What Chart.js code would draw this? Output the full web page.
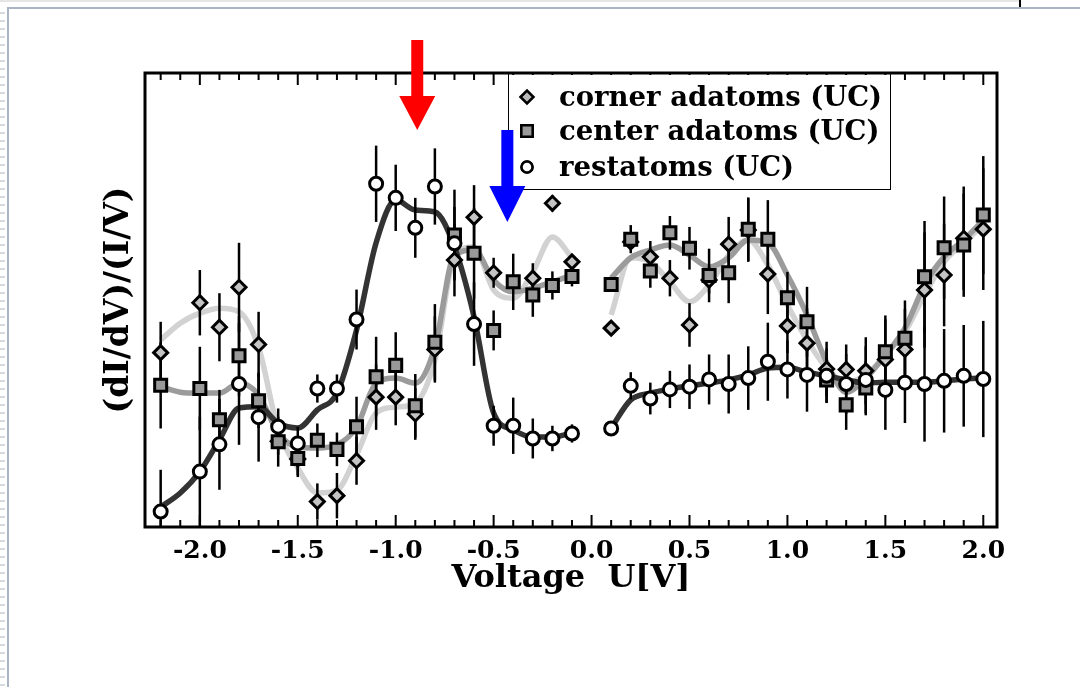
<!DOCTYPE html>
<html>
<head>
<meta charset="utf-8">
<script src="https://cdn.jsdelivr.net/npm/chart.js@4"></script>
<style>
html, body { margin: 0; padding: 0; background: #fff; }
#wrap { position: relative; width: 1080px; height: 687px; overflow: hidden; }
#chart { position: absolute; left: 0; top: 0; }
.topLine { position: absolute; left: 0; top: 0; width: 1020px; height: 2px; background: #e6e6e6; }
.mark { position: absolute; left: 1019px; top: 0; width: 2px; height: 7px; background: #000; }
.frameTop { position: absolute; left: 7px; top: 7px; right: 0; height: 2px; background: #aab5c4; }
.frameLeft { position: absolute; left: 7px; top: 7px; bottom: 0; width: 2px; background: #aab5c4; }
.ruler { position: absolute; left: 0; top: 12px; bottom: 0; width: 5px;
  background: repeating-linear-gradient(to bottom, #d6dbe2 0 2px, transparent 2px 8px); }
</style>
</head>
<body>
<div id="wrap">
  <div class="topLine"></div>
  <div class="mark"></div>
  <div class="frameTop"></div>
  <div class="frameLeft"></div>
  <div class="ruler"></div>
  <canvas id="chart" width="1080" height="687"></canvas>
</div>
<script>
// measured points (arbitrary units, 0 = bottom of frame)
const voltages = [-2.2, -2.0, -1.9, -1.8, -1.7, -1.6, -1.5, -1.4, -1.3, -1.2, -1.1, -1.0, -0.9, -0.8, -0.7, -0.6, -0.5, -0.4, -0.3, -0.2, -0.1,
                  0.1, 0.2, 0.3, 0.4, 0.5, 0.6, 0.7, 0.8, 0.9, 1.0, 1.1, 1.2, 1.3, 1.4, 1.5, 1.6, 1.7, 1.8, 1.9, 2.0];

const corner = [38.4, 49.4, 44.0, 52.8, 40.2, 18.9, 15.0, 5.6, 6.9, 14.6, 28.6, 28.6, 24.9, 39.1, 58.8, 68.2, 56.0, null, 54.8, 71.3, 58.4,
                43.8, 62.8, 59.5, 54.8, 44.5, 54.4, 62.3, 65.4, 55.7, 44.3, 40.5, 34.8, 34.7, 34.4, 36.9, 39.1, 52.2, 55.5, 63.6, 65.6];
const cornerErr = [6.8, 7.2, 7.5, 9.8, 7.2, 3, 4, 4, 5, 5.3, 7.2, 6.2, 5.7, 7.3, 8, 7.1, 3.3, 0, 3.3, 1.8, 1.2,
                   0, 0, 3.5, 4, 4.8, 3, 6, 7, 8.8, 6, 7.7, 6, 5.5, 7.4, 8.8, 8.9, 12.7, 11.3, 11.4, 13.4];

const center = [31.2, 30.5, 23.6, 37.7, 27.8, 18.8, 15.1, 19.1, 17.1, 22.1, 33.1, 35.6, 26.7, 40.7, 64.3, 60.3, 43.3, 54.0, 51.1, 53.2, 55.2,
                53.4, 63.4, 56.4, 64.8, 61.4, 55.4, 56.0, 65.6, 63.4, 50.5, 45.2, 32.4, 26.9, 30.6, 38.6, 41.6, 55.1, 61.5, 62.1, 68.7];
const centerErr = [9.5, 9.2, 6.6, 8.8, 6, 5.5, 3.7, 3.7, 3.7, 6.6, 8.8, 7.3, 7, 8.4, 10, 10, 4.4, 6.2, 4.8, 3.1, 2.2,
                   1, 3.1, 3.7, 3.7, 4.7, 5.9, 6.7, 7, 8.6, 5.7, 7.7, 5, 5.5, 6, 8, 8.3, 12.3, 11.3, 11.4, 13];

const rest = [3.4, 12.2, 18.2, 31.5, 24.2, 22.1, 18.4, 30.5, 30.5, 45.7, 75.6, 72.5, 65.9, 75.0, 62.5, 44.7, 22.3, 22.3, 19.5, 19.5, 20.6,
              21.7, 31.1, 28.3, 30.3, 30.9, 32.5, 31.5, 32.8, 36.4, 34.7, 33.5, 33.3, 31.5, 32.4, 30.2, 31.8, 31.5, 32.2, 33.3, 32.6];
const restErr = [9.2, 12.1, 10, 13.4, 9.8, 4, 3.7, 3.1, 3.1, 6.6, 8.4, 7.3, 6.6, 8.4, 8, 9.2, 4.4, 6.2, 4.4, 2.8, 2,
                 0, 3, 3.5, 4.1, 4.9, 5.5, 6.5, 7, 8.6, 6.4, 8.1, 6, 6.6, 7.4, 8.8, 8.9, 12.7, 11.4, 11.2, 12.8];

// smoothed guide curves (null at 0 V breaks the line)
const fitVoltages = [-2.2, -2.1, -2.0, -1.9, -1.8, -1.7, -1.6, -1.5, -1.4, -1.3, -1.2, -1.1, -1.0, -0.9, -0.8, -0.7, -0.6, -0.5, -0.4, -0.3, -0.2, -0.1, 0,
                     0.1, 0.2, 0.3, 0.4, 0.5, 0.6, 0.7, 0.8, 0.9, 1.0, 1.1, 1.2, 1.3, 1.4, 1.5, 1.6, 1.7, 1.8, 1.9, 2.0];
const fitCorner = [41.2, 44.9, 47.1, 48.2, 47.4, 39.6, 21.4, 13.0, 7.5, 8.1, 15.9, 25.1, 26.4, 27.3, 36.8, 59.5, 61.7, 52.2, 50.4, 56.2, 63.9, 59.3, null,
                   46.7, 59.3, 58.4, 54.0, 49.6, 53.3, 59.9, 63.2, 57.7, 48.9, 41.2, 35.0, 31.9, 33.5, 37.9, 43.0, 51.1, 58.4, 62.6, 66.5];
const fitCenter = [30.9, 29.7, 29.5, 29.5, 31.7, 29.1, 20.7, 17.6, 17.4, 18.1, 22.0, 31.7, 32.8, 31.7, 39.6, 59.9, 61.0, 54.4, 51.8, 52.6, 54.0, 55.5, null,
                   54.8, 59.3, 61.0, 62.1, 59.9, 57.3, 59.3, 63.2, 62.6, 55.5, 46.7, 36.3, 29.7, 32.8, 37.9, 43.8, 53.3, 59.5, 63.2, 67.6];
const fitRest = [4.4, 7.5, 12.2, 19.2, 26.2, 26.5, 22.9, 21.8, 25.8, 29.5, 43.4, 62.6, 72.0, 69.8, 69.4, 61.7, 46.3, 25.1, 21.4, 19.8, 19.8, 20.7, null,
                 21.8, 28.0, 29.5, 30.4, 31.1, 31.7, 32.4, 33.5, 35.0, 35.2, 34.1, 33.3, 32.4, 31.7, 31.9, 31.9, 31.9, 32.2, 32.6, 32.8];

const seriesLabels = ['corner adatoms (UC)', 'center adatoms (UC)', 'restatoms (UC)'];
const xTickValues = [-2.0, -1.5, -1.0, -0.5, 0.0, 0.5, 1.0, 1.5, 2.0];
const arrowVoltages = [-0.89, -0.43];   // red, blue

const serif = "'DejaVu Serif', 'Liberation Serif', serif";

function points(xs, ys) {
    return xs.map((x, i) => ({ x: x, y: ys[i] }));
}

function markerSet(label, values, style, fill, radius, order) {
    return {
        label: label,
        data: points(voltages, values),
        showLine: false,
        pointStyle: style,
        pointRadius: radius,
        pointBackgroundColor: fill,
        pointBorderColor: '#000',
        pointBorderWidth: 3,
        order: order
    };
}

function curveSet(values, color, order) {
    return {
        label: '',
        data: points(fitVoltages, values),
        borderColor: color,
        borderWidth: 5.5,
        pointRadius: 0,
        cubicInterpolationMode: 'monotone',
        spanGaps: false,
        order: order
    };
}

const markerSeries = [
    { values: corner, errors: cornerErr },
    { values: center, errors: centerErr },
    { values: rest, errors: restErr }
];

// error bars go under the markers but over the curves
const errorBars = {
    id: 'errorBars',
    beforeDatasetDraw(chart, args) {
        if (args.index !== 3) return;
        const { ctx, chartArea, scales: { x, y } } = chart;
        ctx.save();
        ctx.beginPath();
        ctx.rect(chartArea.left, chartArea.top, chartArea.right - chartArea.left, chartArea.bottom - chartArea.top);
        ctx.clip();
        ctx.strokeStyle = '#000';
        ctx.lineWidth = 2.5;
        markerSeries.forEach(s => {
            s.values.forEach((v, i) => {
                if (v === null || !s.errors[i]) return;
                const px = x.getPixelForValue(voltages[i]);
                ctx.beginPath();
                ctx.moveTo(px, y.getPixelForValue(v + s.errors[i]));
                ctx.lineTo(px, y.getPixelForValue(v - s.errors[i]));
                ctx.stroke();
            });
        });
        ctx.restore();
    }
};

// thick frame with minor ticks every 0.1 V on top and bottom
const frame = {
    id: 'frame',
    afterDatasetsDraw(chart) {
        const { ctx, chartArea, scales: { x } } = chart;
        ctx.save();
        ctx.strokeStyle = '#000';
        ctx.lineWidth = 2;
        for (let k = -22; k <= 20; k++) {
            const px = x.getPixelForValue(k / 10);
            const len = k % 5 === 0 ? 12 : 7;
            ctx.beginPath();
            ctx.moveTo(px, chartArea.bottom);
            ctx.lineTo(px, chartArea.bottom - len);
            ctx.moveTo(px, chartArea.top);
            ctx.lineTo(px, chartArea.top + len);
            ctx.stroke();
        }
        ctx.lineWidth = 3;
        ctx.strokeRect(chartArea.left, chartArea.top, chartArea.right - chartArea.left, chartArea.bottom - chartArea.top);
        ctx.restore();
    }
};

const legendBox = {
    id: 'legendBox',
    afterDraw(chart) {
        const { ctx } = chart;
        const box = { left: 508, top: 73, right: 890, bottom: 189 };
        ctx.save();
        ctx.fillStyle = '#fff';
        ctx.fillRect(box.left, box.top + 2, box.right - box.left, box.bottom - box.top - 2);
        ctx.strokeStyle = '#000';
        ctx.lineWidth = 1;
        ctx.strokeRect(box.left + 0.5, box.top + 0.5, box.right - box.left, box.bottom - box.top);
        const rows = [97, 131, 167];
        const styles = ['rectRot', 'rect', 'circle'];
        const fills = ['#b8b8b8', '#999', '#fff'];
        const sizes = [6.5, 8, 5.5];
        rows.forEach((ry, i) => {
            Chart.helpers.drawPoint(ctx, {
                pointStyle: styles[i], radius: sizes[i], borderWidth: 2.5, rotation: 0
            }, 527, ry);
            ctx.fillStyle = fills[i];
            ctx.strokeStyle = '#000';
            ctx.lineWidth = 2.5;
            ctx.fill();
            ctx.stroke();
            ctx.fillStyle = '#000';
            ctx.font = 'bold 27.5px ' + serif;
            ctx.textBaseline = 'alphabetic';
            ctx.fillText(seriesLabels[i], 559, ry + 9);
        });
        ctx.restore();
    }
};

const arrows = {
    id: 'arrows',
    afterDraw(chart) {
        const { ctx, scales: { x } } = chart;
        const specs = [
            { v: arrowVoltages[0], color: '#ff0000', top: 40, neck: 96, tip: 130 },
            { v: arrowVoltages[1], color: '#0000ff', top: 130, neck: 186, tip: 222 }
        ];
        ctx.save();
        specs.forEach(a => {
            const cx = x.getPixelForValue(a.v);
            ctx.fillStyle = a.color;
            ctx.beginPath();
            ctx.moveTo(cx - 6, a.top);
            ctx.lineTo(cx + 6, a.top);
            ctx.lineTo(cx + 6, a.neck);
            ctx.lineTo(cx + 18, a.neck);
            ctx.lineTo(cx, a.tip);
            ctx.lineTo(cx - 18, a.neck);
            ctx.lineTo(cx - 6, a.neck);
            ctx.closePath();
            ctx.fill();
        });
        ctx.restore();
    }
};

new Chart(document.getElementById('chart'), {
    type: 'line',
    data: {
        datasets: [
            curveSet(fitCorner, '#d2d2d2', 6),
            curveSet(fitCenter, '#9b9b9b', 5),
            curveSet(fitRest, '#333333', 4),
            markerSet(seriesLabels[0], corner, 'rectRot', '#c4c4c4', 7, 3),
            markerSet(seriesLabels[1], center, 'rect', '#999999', 8.5, 2),
            markerSet(seriesLabels[2], rest, 'circle', '#ffffff', 6.5, 1)
        ]
    },
    options: {
        responsive: false,
        animation: false,
        events: [],
        layout: { padding: { left: 0, right: 83, top: 73, bottom: 0 } },
        plugins: { legend: { display: false }, tooltip: { enabled: false } },
        scales: {
            x: {
                type: 'linear',
                min: -2.28,
                max: 2.07,
                afterBuildTicks: scale => { scale.ticks = xTickValues.map(v => ({ value: v })); },
                afterFit: scale => { scale.height = 160; },
                grid: { display: false, drawTicks: false },
                border: { display: false },
                ticks: {
                    autoSkip: false,
                    maxRotation: 0,
                    padding: 9,
                    color: '#000',
                    font: { family: serif, size: 25, weight: 'bold' },
                    callback: v => v.toFixed(1)
                },
                title: {
                    display: true,
                    text: 'Voltage  U[V]',
                    color: '#000',
                    font: { family: serif, size: 32, weight: 'bold' },
                    padding: { top: 0, bottom: 89 }
                }
            },
            y: {
                min: 0,
                max: 100,
                afterFit: scale => { scale.width = 145; },
                grid: { display: false, drawTicks: false },
                border: { display: false },
                ticks: { display: false },
                title: {
                    display: true,
                    text: '(dI/dV)/(I/V)',
                    color: '#000',
                    font: { family: serif, size: 33, weight: 'bold' },
                    padding: { top: 100, bottom: 0 }
                }
            }
        }
    },
    plugins: [errorBars, frame, legendBox, arrows]
});
</script>
</body>
</html>
